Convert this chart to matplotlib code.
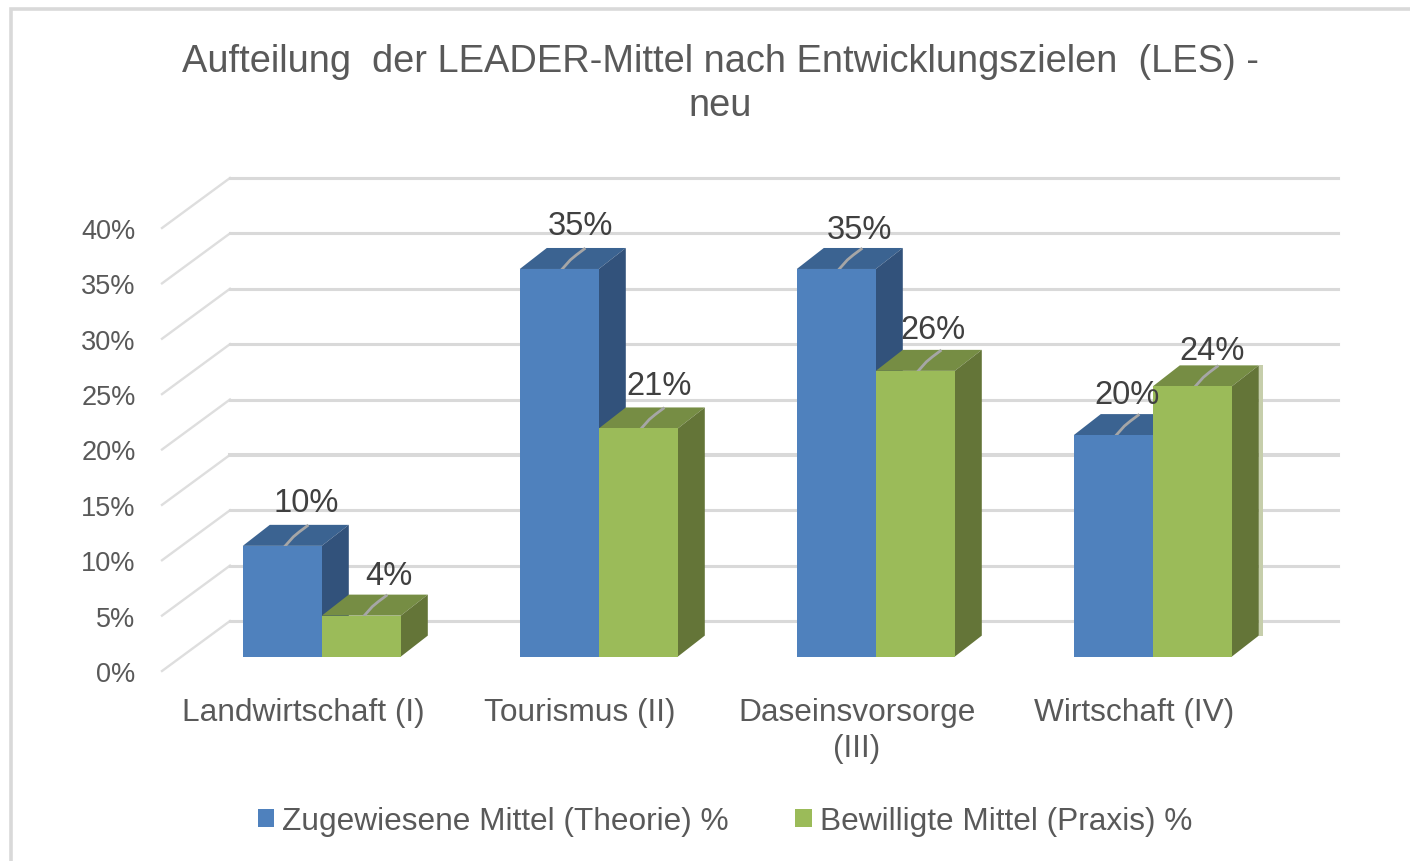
import matplotlib
matplotlib.use("Agg")
import matplotlib.pyplot as plt
from matplotlib.patches import Polygon, Rectangle, Patch

categories = ["Landwirtschaft (I)", "Tourismus (II)", "Daseinsvorsorge\n(III)", "Wirtschaft (IV)"]
series_names = ["Zugewiesene Mittel (Theorie) %", "Bewilligte Mittel (Praxis) %"]
theorie = [10, 35, 35, 20]
praxis = [3.7, 20.6, 25.8, 24.4]
y_ticks = [0, 5, 10, 15, 20, 25, 30, 35, 40]
title = "Aufteilung  der LEADER-Mittel nach Entwicklungszielen  (LES) -\nneu"

plt.rcParams["font.family"] = ["Liberation Sans", "DejaVu Sans"]
W, H = 1410, 862
fig = plt.figure(figsize=(W / 100, H / 100), dpi=100, facecolor="white")

# page frame
GRID = "#D9D9D9"
fig.add_artist(Rectangle((11 / W, -0.1), 1.2, 1.1 - 10 / H, transform=fig.transFigure,
                         fc="none", ec=GRID, lw=2.6))

# front plane of the 3D box
UX, UY = 277.0, 11.075     # px per category, px per percent
ax = fig.add_axes([162 / W, 1 - 672 / H, 1108 / W, 443 / H])
x0 = -(303 - 162) / UX
ax.set_xlim(x0, x0 + 4)
ax.set_ylim(0, 40)
for s in ax.spines.values():
    s.set_visible(False)
ax.patch.set_alpha(0)

def dx(px):
    return px / UX

def dy(px):
    return px / UY

# back wall and side wall grid lines
WALL_X, WALL_Y = 68, 50
for t in y_ticks:
    ax.plot([x0, x0 + dx(WALL_X)], [t, t + dy(WALL_Y)],
            color="#DEDEDE", lw=1.7, clip_on=False, zorder=1)
    ax.plot([x0 + dx(WALL_X), x0 + 4 + dx(WALL_X)], [t + dy(WALL_Y), t + dy(WALL_Y)],
            color=GRID, lw=2.9 if t == 15 else 2.2, clip_on=False, zorder=1)

# bars
FLOOR_X, FLOOR_Y = 18.8, 14.4
DEPTH_X, DEPTH_Y = 27, 21
BW = 79 / UX
styles = [("#4F81BD", "#3B6391", "#32527B"), ("#9BBB59", "#768D44", "#647538")]

for k, (vals, (front, top, side)) in enumerate(zip([theorie, praxis], styles)):
    z = 3 + k
    for i, v in enumerate(vals):
        left = i - BW + k * BW + dx(FLOOR_X)
        base = dy(FLOOR_Y)
        ax.bar(left, v, BW, bottom=base, align="edge", color=front, zorder=z + 0.2, clip_on=False)
        r = left + BW
        t = base + v
        ax.add_patch(Polygon([(left, t), (r, t), (r + dx(DEPTH_X), t + dy(DEPTH_Y)),
                              (left + dx(DEPTH_X), t + dy(DEPTH_Y))],
                             fc=top, ec="none", zorder=z, clip_on=False))
        ax.add_patch(Polygon([(r, base), (r, t), (r + dx(DEPTH_X), t + dy(DEPTH_Y)),
                              (r + dx(DEPTH_X), base + dy(DEPTH_Y))],
                             fc=side, ec="none", zorder=z, clip_on=False))
        mid = left + BW / 2 + dx(3)
        ax.plot([mid, mid + dx(8), mid + dx(14), mid + dx(22)],
                [t, t + dy(9), t + dy(14), t + dy(20)],
                color="#A6A6A6", lw=2, zorder=z + 0.1, clip_on=False)
        if k == 1 and i == len(vals) - 1:
            # pale sliver beside the last bar
            ax.add_patch(Rectangle((r + dx(DEPTH_X), base + dy(DEPTH_Y)), dx(4), v,
                                   fc="#C6CEAB", ec="none", zorder=z - 0.5, clip_on=False))

# data labels
label_nudges = [[(24, 43), (21, 43), (23, 39), (14, 41)],
                [(28, 40), (21, 43), (18, 41), (20, 36)]]
for k, vals in enumerate([theorie, praxis]):
    for i, v in enumerate(vals):
        left = i - BW + k * BW + dx(FLOOR_X)
        nx, ny = label_nudges[k][i]
        ax.annotate(f"{v:.0f}%", xy=(left + BW / 2, dy(FLOOR_Y) + v),
                    xytext=(nx * 0.72, ny * 0.72), textcoords="offset points",
                    ha="center", va="center", fontsize=23.5, color="#404040", zorder=10,
                    annotation_clip=False)

# axes labels
ax.set_yticks(y_ticks)
ax.set_yticklabels([f"{t}%" for t in y_ticks])
ax.set_xticks(range(4))
ax.set_xticklabels(categories, linespacing=1.25)
ax.tick_params(axis="y", length=0, pad=19, labelsize=19.5, labelcolor="#595959")
ax.tick_params(axis="x", length=0, pad=18.7, labelsize=22.8, labelcolor="#595959")

fig.text(720 / W, 1 - 84 / H, title, ha="center", va="center", fontsize=27.35,
         color="#595959", linespacing=1.26)

handles = [Patch(fc=styles[0][0], ec="none"), Patch(fc=styles[1][0], ec="none")]
fig.legend(handles, series_names, loc="center", bbox_to_anchor=(725 / W, 1 - 822 / H),
           ncol=2, frameon=False, fontsize=22.75, labelcolor="#595959",
           handlelength=0.52, handleheight=0.52, handletextpad=0.25, columnspacing=2.1,
           borderpad=0, borderaxespad=0)

fig.savefig("out.png", dpi=100)
